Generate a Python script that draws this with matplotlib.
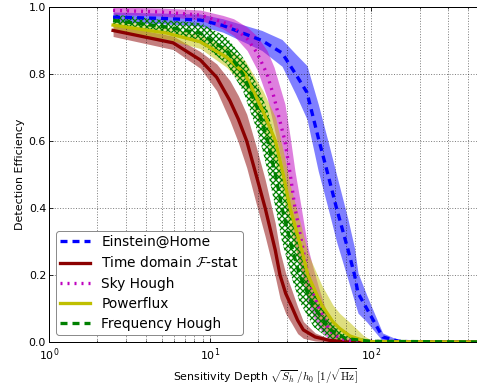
import numpy as np
import matplotlib
matplotlib.use("Agg")
import matplotlib.pyplot as plt

plt.rcParams['mathtext.fontset'] = 'cm'
plt.rcParams['font.family'] = ['DejaVu Sans']
plt.rcParams['lines.scale_dashes'] = False
plt.rcParams['hatch.linewidth'] = 1.3

# ---- data ----
x_eh = [2.5, 5, 8.7, 12, 16, 21, 28, 34, 40, 47, 54, 61, 72, 79, 83, 94, 118, 150, 200, 500]
y_eh = [0.970, 0.966, 0.961, 0.945, 0.922, 0.900, 0.863, 0.800, 0.745, 0.610, 0.500, 0.400, 0.275, 0.200, 0.146, 0.100, 0.015, 0.002, 0.0, 0.0]
e_eh = [0.015, 0.016, 0.018, 0.02, 0.025, 0.03, 0.04, 0.06, 0.08, 0.10, 0.10, 0.10, 0.09, 0.08, 0.06, 0.04, 0.012, 0.003, 0.0, 0.0]

x_fs = [2.5, 5.9, 8.7, 11, 13.3, 15, 16.9, 19.3, 22, 25.4, 27.2, 29.5, 32.2, 35, 38, 45, 55, 70, 500]
y_fs = [0.930, 0.893, 0.842, 0.790, 0.720, 0.665, 0.600, 0.500, 0.400, 0.275, 0.200, 0.145, 0.105, 0.065, 0.036, 0.015, 0.005, 0.0, 0.0]
e_fs = [0.018, 0.02, 0.025, 0.04, 0.06, 0.07, 0.08, 0.085, 0.085, 0.08, 0.07, 0.06, 0.05, 0.04, 0.025, 0.012, 0.005, 0.0, 0.0]

x_sh = [2.5, 5, 8.7, 12, 14, 17, 19.6, 22.6, 25, 27, 29.2, 31.5, 33.7, 36, 37.9, 40.6, 44, 47.1, 55, 64, 80, 500]
y_sh = [0.990, 0.985, 0.976, 0.955, 0.940, 0.905, 0.863, 0.800, 0.730, 0.665, 0.600, 0.500, 0.400, 0.330, 0.275, 0.200, 0.145, 0.105, 0.035, 0.010, 0.002, 0.0]
e_sh = [0.012, 0.012, 0.015, 0.02, 0.025, 0.035, 0.05, 0.07, 0.09, 0.10, 0.11, 0.11, 0.11, 0.10, 0.09, 0.08, 0.07, 0.06, 0.03, 0.01, 0.003, 0.0]

x_pf = [2.5, 5.4, 8.7, 12.7, 16.5, 21.3, 25.5, 28.5, 31.4, 37.1, 40.5, 49.4, 58, 64, 74, 90, 100, 500]
y_pf = [0.946, 0.922, 0.896, 0.850, 0.800, 0.690, 0.600, 0.500, 0.400, 0.275, 0.200, 0.110, 0.060, 0.040, 0.018, 0.004, 0.001, 0.0]
e_pf = [0.015, 0.018, 0.02, 0.03, 0.04, 0.06, 0.07, 0.07, 0.07, 0.065, 0.065, 0.06, 0.05, 0.045, 0.04, 0.015, 0.005, 0.0]

x_fh = [2.5, 5.4, 8.7, 12.7, 16, 20, 22.8, 25.5, 28, 32.5, 36, 44, 56, 70, 100, 500]
y_fh = [0.960, 0.940, 0.922, 0.870, 0.800, 0.690, 0.600, 0.500, 0.400, 0.275, 0.200, 0.105, 0.036, 0.010, 0.002, 0.0]
e_fh = [0.018, 0.02, 0.03, 0.04, 0.05, 0.07, 0.09, 0.10, 0.10, 0.09, 0.08, 0.06, 0.03, 0.01, 0.003, 0.0]

labels = ["Einstein@Home", r"Time domain $\mathcal{F}$-stat", "Sky Hough", "Powerflux", "Frequency Hough"]

xticks = [1, 10, 100]
yticks = [0.0, 0.2, 0.4, 0.6, 0.8, 1.0]

# ---- figure ----
W, H = 477, 389
fig = plt.figure(figsize=(W / 72, H / 72), dpi=72)
ax = fig.add_axes([49 / W, (H - 342) / H, (483.6 - 49) / W, 335 / H])


def band(x, y, e, **kw):
    x = np.asarray(x); y = np.asarray(y); e = np.asarray(e)
    lo = np.clip(y - e, 0, 1)
    hi = np.clip(y + e, 0, 1)
    return ax.fill_between(x, lo, hi, **kw)


band(x_eh, y_eh, e_eh, color='b', alpha=0.5, lw=0)
l1, = ax.plot(x_eh, y_eh, color='b', lw=3.3, linestyle=(0, (7, 5)))

band(x_fs, y_fs, e_fs, color='darkred', alpha=0.5, lw=0)
l2, = ax.plot(x_fs, y_fs, color='darkred', lw=3.3)

band(x_sh, y_sh, e_sh, color='m', alpha=0.5, lw=0)
l3, = ax.plot(x_sh, y_sh, color='m', lw=3.3, linestyle=(0, (2, 5)))

band(x_pf, y_pf, e_pf, color='y', alpha=0.5, lw=0)
l4, = ax.plot(x_pf, y_pf, color='y', lw=3.3)

band(x_fh, y_fh, e_fh, facecolor='none', edgecolor='g', hatch='xxxx', lw=0)
l5, = ax.plot(x_fh, y_fh, color='g', lw=3.3, linestyle=(0, (7, 5)))

ax.set_xscale('log')
ax.set_xlim(1, 500)
ax.set_ylim(0, 1)
ax.set_xticks(xticks)
ax.set_yticks(yticks)
ax.grid(True, which='major', color='k', linestyle=':', lw=0.5)
ax.grid(True, which='minor', axis='x', color='k', linestyle=':', lw=0.5)
ax.tick_params(which='both', direction='in', top=True, right=True, labelsize=11)
ax.tick_params(axis='x', pad=4.5)
ax.tick_params(axis='y', pad=3)
ax.tick_params(which='major', length=4)
ax.tick_params(which='minor', length=2)
for s in ax.spines.values():
    s.set_linewidth(1.0)

ax.set_ylabel("Detection Efficiency", fontsize=11, labelpad=4)
ax.set_xlabel(r"Sensitivity Depth $\sqrt{S_h}\,/h_0$ $[1/\sqrt{\mathrm{Hz}}]$", fontsize=11, labelpad=3)

leg = ax.legend([l1, l2, l3, l4, l5], labels, loc='lower left', fontsize=13.8,
                labelspacing=0.45, borderpad=0.3, handlelength=2.2, handletextpad=0.8,
                framealpha=1, edgecolor='0.55', fancybox=True)
leg.set_zorder(10)

fig.savefig("out.png", dpi=72)
